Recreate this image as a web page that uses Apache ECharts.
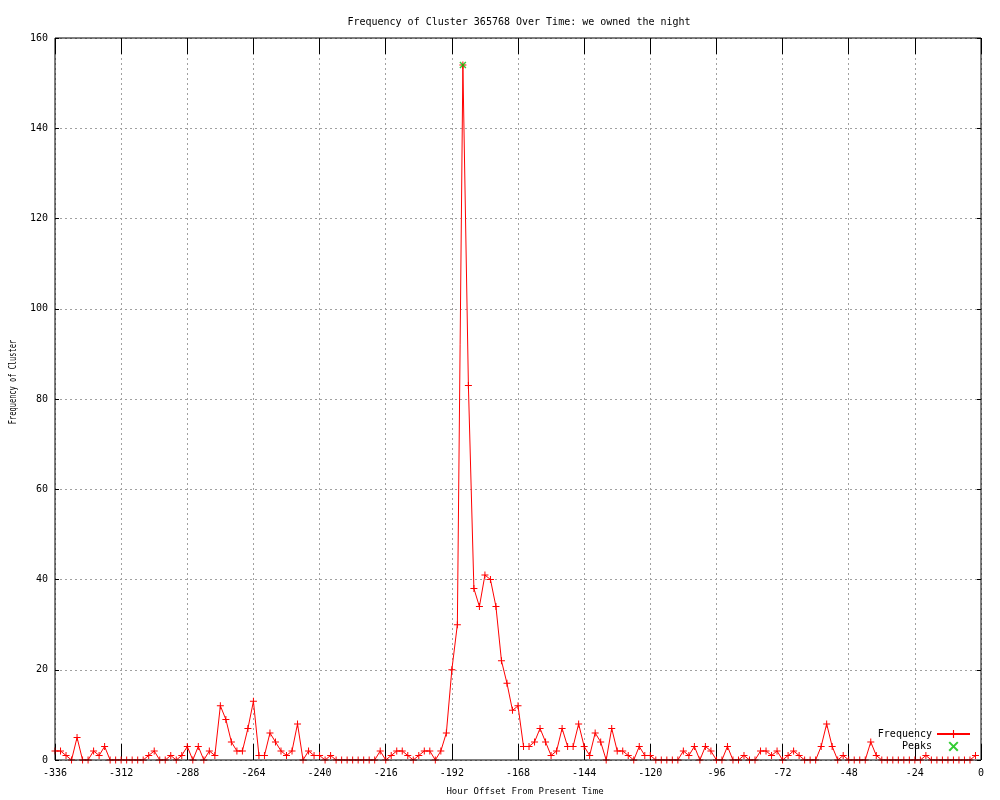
<!DOCTYPE html>
<html>
<head>
<meta charset="utf-8">
<script src="https://cdn.jsdelivr.net/npm/echarts@6/dist/echarts.min.js"></script>
<style>
html,body{margin:0;padding:0;background:#fff;}
#chart{width:1000px;height:800px;}
</style>
</head>
<body>
<div id="chart"></div>
<script>
var titleText = 'Frequency of Cluster 365768 Over Time: we owned the night';
var xAxisTitle = 'Hour Offset From Present Time';
var yAxisTitle = 'Frequency of Cluster';

var hours = [
  -336,-334,-332,-330,-328,-326,-324,-322,
  -320,-318,-316,-314,-312,-310,-308,-306,
  -304,-302,-300,-298,-296,-294,-292,-290,
  -288,-286,-284,-282,-280,-278,-276,-274,
  -272,-270,-268,-266,-264,-262,-260,-258,
  -256,-254,-252,-250,-248,-246,-244,-242,
  -240,-238,-236,-234,-232,-230,-228,-226,
  -224,-222,-220,-218,-216,-214,-212,-210,
  -208,-206,-204,-202,-200,-198,-196,-194,
  -192,-190,-188,-186,-184,-182,-180,-178,
  -176,-174,-172,-170,-168,-166,-164,-162,
  -160,-158,-156,-154,-152,-150,-148,-146,
  -144,-142,-140,-138,-136,-134,-132,-130,
  -128,-126,-124,-122,-120,-118,-116,-114,
  -112,-110,-108,-106,-104,-102,-100,-98,
  -96,-94,-92,-90,-88,-86,-84,-82,
  -80,-78,-76,-74,-72,-70,-68,-66,
  -64,-62,-60,-58,-56,-54,-52,-50,
  -48,-46,-44,-42,-40,-38,-36,-34,
  -32,-30,-28,-26,-24,-22,-20,-18,
  -16,-14,-12,-10,-8,-6,-4,-2
];

var frequency = [
  2,2,1,0,5,0,0,2,
  1,3,0,0,0,0,0,0,
  0,1,2,0,0,1,0,1,
  3,0,3,0,2,1,12,9,
  4,2,2,7,13,1,1,6,
  4,2,1,2,8,0,2,1,
  1,0,1,0,0,0,0,0,
  0,0,0,2,0,1,2,2,
  1,0,1,2,2,0,2,6,
  20,30,154,83,38,34,41,40,
  34,22,17,11,12,3,3,4,
  7,4,1,2,7,3,3,8,
  3,1,6,4,0,7,2,2,
  1,0,3,1,1,0,0,0,
  0,0,2,1,3,0,3,2,
  0,0,3,0,0,1,0,0,
  2,2,1,2,0,1,2,1,
  0,0,0,3,8,3,0,1,
  0,0,0,0,4,1,0,0,
  0,0,0,0,0,0,1,0,
  0,0,0,0,0,0,0,1
];

var peakHours = [-188];
var peakValues = [154];

var xMin = -336, xMax = 0, xStep = 24;
var yMin = 0, yMax = 160, yStep = 20;

var freqData = hours.map(function (h, i) { return [h, frequency[i]]; });
var peakData = peakHours.map(function (h, i) { return [h, peakValues[i]]; });

var plusPath = 'path://M0,3 L7,3 L7,4 L0,4 Z M3,0 L4,0 L4,7 L3,7 Z';
var crossPath = 'path://M0,1 L1,0 L7,6 L6,7 Z M6,0 L7,1 L1,7 L0,6 Z';
var mono = 'DejaVu Sans Mono';

var chart = echarts.init(document.getElementById('chart'), null, {renderer: 'canvas'});
var gridLine = {color: '#a0a0a0', width: 1, type: [2, 3]};
var noLine = {show: false, onZero: false};

chart.setOption({
  animation: false,
  backgroundColor: '#ffffff',
  title: {
    text: titleText,
    left: 514,
    top: 12,
    textAlign: 'center',
    textStyle: {fontFamily: mono, fontSize: 10, fontWeight: 'normal', color: '#000'}
  },
  grid: {
    left: 55, right: 19, top: 38, bottom: 40,
    show: true, borderColor: '#000', borderWidth: 1,
    backgroundColor: 'transparent', z: 5
  },
  legend: {
    orient: 'vertical',
    right: 24,
    top: 724,
    align: 'right',
    itemWidth: 33,
    itemHeight: 10,
    itemGap: 2.4,
    textStyle: {fontFamily: mono, fontSize: 10, color: '#000'},
    data: ['Frequency', 'Peaks']
  },
  xAxis: [{
    type: 'value', min: xMin, max: xMax, interval: xStep,
    axisLine: noLine,
    axisTick: {show: true, inside: true, length: 16, lineStyle: {color: '#000'}},
    axisLabel: {fontFamily: mono, fontSize: 10, color: '#000', margin: 8},
    splitLine: {show: true, lineStyle: gridLine}
  }, {
    type: 'value', position: 'top', min: xMin, max: xMax, interval: xStep,
    axisLine: noLine,
    axisTick: {show: true, inside: true, length: 16, lineStyle: {color: '#000'}},
    axisLabel: {show: false},
    splitLine: {show: false}
  }],
  yAxis: [{
    type: 'value', position: 'left', min: yMin, max: yMax, interval: yStep,
    axisLine: noLine,
    axisTick: {show: true, inside: true, length: 4, lineStyle: {color: '#000'}},
    axisLabel: {fontFamily: mono, fontSize: 10, color: '#000', margin: 7},
    splitLine: {show: true, lineStyle: gridLine}
  }, {
    type: 'value', position: 'right', min: yMin, max: yMax, interval: yStep,
    axisLine: noLine,
    axisTick: {show: true, inside: true, length: 4, lineStyle: {color: '#000'}},
    axisLabel: {show: false},
    splitLine: {show: false}
  }],
  graphic: [{
    type: 'text',
    x: 525, y: 792,
    style: {text: xAxisTitle, fontFamily: mono, fontSize: 9, fill: '#000',
            textAlign: 'center', textVerticalAlign: 'middle'}
  }, {
    type: 'text',
    x: 13, y: 382,
    rotation: Math.PI / 2,
    scaleX: 0.7,
    style: {text: yAxisTitle, fontFamily: mono, fontSize: 10, fill: '#000',
            textAlign: 'center', textVerticalAlign: 'middle'}
  }],
  series: [{
    name: 'Frequency',
    type: 'line',
    data: freqData,
    symbol: plusPath,
    symbolSize: 7,
    showAllSymbol: true,
    color: '#ff0000',
    itemStyle: {color: '#ff0000'},
    lineStyle: {color: '#ff0000', width: 1},
    z: 2
  }, {
    name: 'Peaks',
    type: 'scatter',
    data: peakData,
    symbol: crossPath,
    symbolSize: 7,
    color: '#00c000',
    itemStyle: {color: '#00c000'},
    z: 3
  }]
});
</script>
</body>
</html>
